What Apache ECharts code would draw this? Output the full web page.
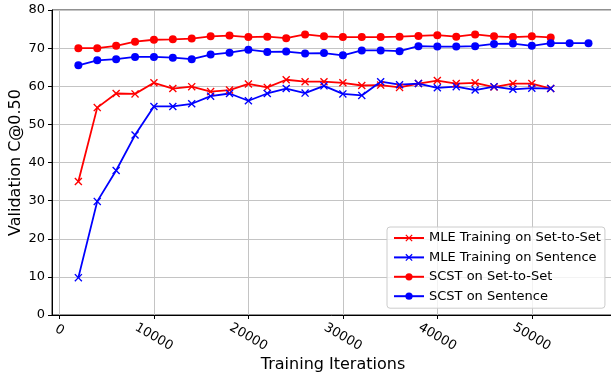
<!DOCTYPE html>
<html>
<head>
<meta charset="utf-8">
<script src="https://cdn.jsdelivr.net/npm/echarts@6/dist/echarts.min.js"></script>
<style>
html,body{margin:0;padding:0;background:#fff;}
#chart{width:611px;height:375px;}
</style>
</head>
<body>
<div id="chart"></div>
<script>
const iterations = [2000,4000,6000,8000,10000,12000,14000,16000,18000,20000,22000,24000,26000,28000,30000,32000,34000,36000,38000,40000,42000,44000,46000,48000,50000,52000,54000,56000];
const mleSetToSet = [35.0,54.4,58.1,58.0,60.9,59.4,59.9,58.6,59.0,60.6,59.7,61.7,61.2,61.2,60.9,60.2,60.3,59.7,60.7,61.5,60.7,60.9,59.8,60.7,60.7,59.4];
const mleSentence = [9.8,29.8,37.9,47.2,54.7,54.7,55.4,57.4,58.1,56.2,58.1,59.4,58.2,60.1,58.0,57.6,61.2,60.4,60.7,59.6,59.9,59.0,59.9,59.2,59.5,59.4];
const scstSetToSet = [70.0,70.0,70.6,71.7,72.2,72.3,72.5,73.1,73.3,72.9,73.0,72.6,73.6,73.1,72.9,72.9,72.9,73.0,73.2,73.4,73.0,73.6,73.1,72.9,73.1,72.8];
const scstSentence = [65.5,66.8,67.1,67.7,67.7,67.5,67.1,68.3,68.8,69.6,69.0,69.1,68.6,68.7,68.1,69.4,69.4,69.2,70.5,70.4,70.4,70.5,71.1,71.2,70.6,71.3,71.3,71.3];
const xTicks = [0,10000,20000,30000,40000,50000];
const yTicks = [0,10,20,30,40,50,60,70,80];
const seriesNames = ['MLE Training on Set-to-Set','MLE Training on Sentence','SCST on Set-to-Set','SCST on Sentence'];

const FONT = 'DejaVu Sans';
const X_MARK = 'path://M0,1.2L1.2,0L5,3.8L8.8,0L10,1.2L6.2,5L10,8.8L8.8,10L5,6.2L1.2,10L0,8.8L3.8,5Z';

function pairs(vals){ return vals.map((v,i)=>[iterations[i], v]); }

function mkSeries(name, vals, color, symbol){
  return {
    name: name, type: 'line', data: pairs(vals),
    symbol: symbol, symbolSize: 8, showSymbol: true,
    lineStyle: {color: color, width: 1.8},
    itemStyle: {color: color},
    emphasis: {disabled: true},
    animation: false
  };
}

const chart = echarts.init(document.getElementById('chart'), null, {renderer:'canvas'});
chart.setOption({
  backgroundColor: '#fff',
  animation: false,
  grid: {left: 52, top: 10, width: 562, height: 305, show: true, borderColor: '#222', borderWidth: 1,
    containLabel: false, outerBoundsMode: 'none'},
  legend: {
    orient: 'vertical', left: 387, top: 227,
    data: seriesNames,
    itemWidth: 30, itemHeight: 9, itemGap: 5.4,
    padding: [4, 4, 5, 6],
    backgroundColor: 'rgba(255,255,255,0.8)',
    borderColor: '#cccccc', borderWidth: 1, borderRadius: 3,
    textStyle: {fontFamily: FONT, fontSize: 13, color: '#000', lineHeight: 14}
  },
  xAxis: {
    type: 'value', min: -790, max: 58700,
    name: 'Training Iterations', nameLocation: 'middle', nameGap: 42, nameMoveOverlap: false,
    nameTextStyle: {fontFamily: FONT, fontSize: 16, color: '#000'},
    axisLine: {show: true, onZero: false, lineStyle: {color: '#000', width: 1}},
    axisTick: {show: true, length: 4, customValues: xTicks, lineStyle: {color: '#000'}},
    axisLabel: {
      customValues: xTicks, rotate: -30, margin: 22, align: 'center', verticalAlign: 'middle',
      fontFamily: FONT, fontSize: 13, color: '#000',
      formatter: function(v){ return v === 0 ? '{z|0}' : String(v); },
      rich: {z: {fontFamily: FONT, fontSize: 13, color: '#000', padding: [0, 7, 12, 0]}}
    },
    splitLine: {show: true, lineStyle: {color: '#c4c4c4', width: 1}}
  },
  yAxis: {
    type: 'value', min: 0, max: 80, interval: 10,
    name: 'Validation C@0.50', nameLocation: 'middle', nameGap: 28, nameMoveOverlap: false,
    nameTextStyle: {fontFamily: FONT, fontSize: 16, color: '#000'},
    axisLine: {show: true, onZero: false, lineStyle: {color: '#000', width: 1}},
    axisTick: {show: true, length: 4, lineStyle: {color: '#000'}},
    axisLabel: {margin: 7, fontFamily: FONT, fontSize: 13, color: '#000',
      formatter: function(v){ return yTicks.indexOf(v) >= 0 ? String(v) : ''; }},
    splitLine: {show: true, lineStyle: {color: '#c4c4c4', width: 1}}
  },
  series: [
    mkSeries(seriesNames[0], mleSetToSet, '#ff0000', X_MARK),
    mkSeries(seriesNames[1], mleSentence, '#0000ff', X_MARK),
    mkSeries(seriesNames[2], scstSetToSet, '#ff0000', 'circle'),
    mkSeries(seriesNames[3], scstSentence, '#0000ff', 'circle')
  ]
});
</script>
</body>
</html>
